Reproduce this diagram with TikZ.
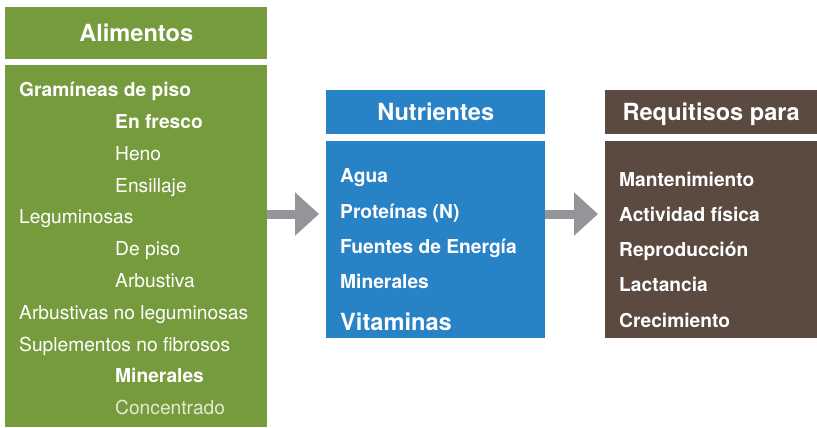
\documentclass[tikz,border=0pt]{standalone}
\usepackage{fontspec}
\setmainfont{TeX Gyre Heros}
\usetikzlibrary{arrows.meta}

\definecolor{alimgreen}{HTML}{769B3C}
\definecolor{nutrblue}{HTML}{2882C6}
\definecolor{reqbrown}{HTML}{5A4A3F}
\definecolor{arrowgray}{HTML}{939598}
\definecolor{palegreen}{HTML}{E3EAD3}

\tikzset{
    headbox/.style={inner sep=0pt, text=white, anchor=north west,
        font=\fontsize{23.6}{28}\selectfont\bfseries, text height=17pt, text depth=0pt},
    bodybox/.style={inner sep=0pt, anchor=north west},
    itembold/.style={inner sep=0pt, anchor=base west, text=white,
        font=\fontsize{19.2}{23}\selectfont\bfseries},
    itemreg/.style={itembold, font=\fontsize{19.2}{23}\selectfont},
    itemlight/.style={itemreg, text=palegreen},
    itembig/.style={itembold, font=\fontsize{23.6}{28}\selectfont\bfseries},
    bigarrow/.style={draw=arrowgray, line width=9pt,
        -{Triangle[length=24pt,width=42pt]}, shorten >=7pt}
}

\begin{document}
\begin{tikzpicture}[x=1pt,y=-1pt]
    \useasboundingbox (0,0) rectangle (817,428);   % page size

    % the three columns
    \node [headbox, fill=alimgreen, minimum width=262pt, minimum height=52pt] (alimhead) at (5,7) {Alimentos};
    \node [bodybox, fill=alimgreen, minimum width=262pt, minimum height=362pt] (alimbody) at (5,65) {};

    \node [headbox, fill=nutrblue, minimum width=219pt, minimum height=44pt] (nutrhead) at (326,90) {Nutrientes};
    \node [bodybox, fill=nutrblue, minimum width=219pt, minimum height=197pt] (nutrbody) at (326,141) {};

    \node [headbox, fill=reqbrown, minimum width=212pt, minimum height=44pt] (reqhead) at (605,90) {Requitisos para};
    \node [bodybox, fill=reqbrown, minimum width=212pt, minimum height=197pt] (reqbody) at (605,141) {};

    % lines of the first column
\foreach \txt/\xx/\st [count=\i] in {Gramíneas de piso/19/itembold, En fresco/115/itembold,
        Heno/115/itemreg, Ensillaje/115/itemreg, Leguminosas/19/itemreg, De piso/115/itemreg,
        Arbustiva/115/itemreg, Arbustivas no leguminosas/19/itemreg,
        Suplementos no fibrosos/19/itemreg, Minerales/115/itembold, Concentrado/115/itemlight}
    \node [\st] (alim\i) at (\xx,{64.9+31.8*\i}) {\txt};

    % lines of the second column
\foreach \txt/\yy/\st [count=\i] in {Agua/182/itembold, Proteínas (N)/218/itembold,
        Fuentes de Energía/253/itembold, Minerales/288/itembold, Vitaminas/330/itembig}
    \node [\st] (nutr\i) at (340,\yy) {\txt};

    % lines of the third column
\foreach \txt [count=\i] in {Mantenimiento, Actividad física, Reproducción, Lactancia, Crecimiento}
    \node [itembold] (req\i) at (619,{150.7+35.3*\i}) {\txt};

    \coordinate (arrowrow) at (0,214);
    \draw [bigarrow] (alimbody.east |- arrowrow) -- (nutrbody.west |- arrowrow);   % first arrow
    \draw [bigarrow] (nutrbody.east |- arrowrow) -- (reqbody.west |- arrowrow);    % second arrow

\end{tikzpicture}
\end{document}
